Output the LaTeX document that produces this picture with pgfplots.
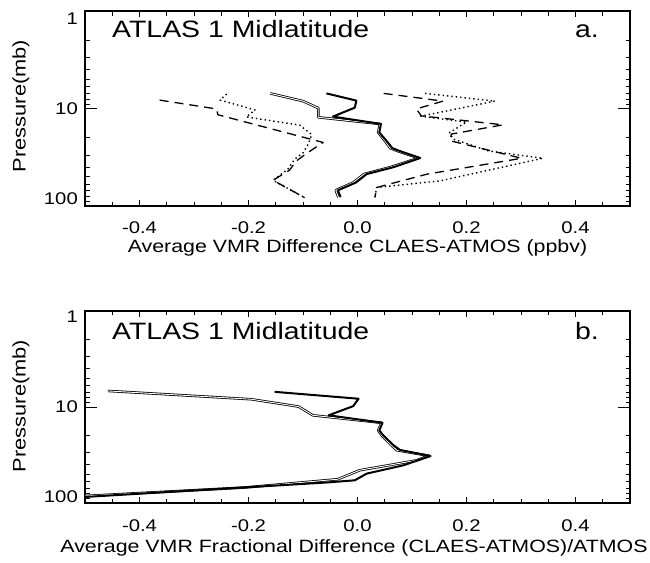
\documentclass[border=0pt]{standalone}
\usepackage{pgfplots}
\pgfplotsset{compat=1.18}
\usepackage{fontspec}
\setmainfont{Liberation Sans}[FakeStretch=1.2]
\pgfplotsset{
 dbl/.style={draw=black, double=white, double distance=0.9pt, line width=0.8pt, line join=round, mark=none},
 blk/.style={black, line width=2pt, line join=round, mark=none},
 dsh/.style={black, line width=1.3pt, dash pattern=on 9pt off 6pt, line join=round, mark=none},
 dtt/.style={black, line width=1.4pt, dash pattern=on 1.4pt off 3pt, line join=round, mark=none},
}
\begin{document}
\begin{tikzpicture}
% ---------------- panel a ----------------
\begin{axis}[scale only axis, width=545pt, height=195pt, at={(85pt,-206pt)}, anchor=south west,
  xmin=-0.5, xmax=0.5, ymode=log, ymin=1, ymax=100, y dir=reverse,
  xtick={-0.4,-0.2,0,0.2,0.4}, xticklabels={-0.4,-0.2,0.0,0.2,0.4},
  minor xtick={-0.45,-0.35,-0.3,-0.25,-0.15,-0.1,-0.05,0.05,0.1,0.15,0.25,0.3,0.35,0.45},
  ytick={1,100}, yticklabels={},
  extra y ticks={10}, extra y tick labels={}, extra y tick style={major tick length=12pt},
  minor ytick={2,3,4,5,6,7,8,9,20,30,40,50,60,70,80,90},
  tick align=inside, major tick length=6pt, minor tick length=4.5pt,
  axis line style={line width=1.6pt},
  every tick/.style={black, line width=1pt},
  xticklabel style={font=\fontsize{16.9}{20}\selectfont, anchor=base, yshift=-27pt, inner sep=0pt}]
\addplot[dsh] coordinates {(-0.363,8.2) (-0.259,10.1) (-0.256,11.6) (-0.063,22.3) (-0.094,29) (-0.112,34.5) (-0.125,43) (-0.155,54.5) (-0.097,82)};
\addplot[dtt] coordinates {(-0.240,7.1) (-0.252,8.2) (-0.188,10.35) (-0.204,12.2) (-0.106,14.8) (-0.084,18.5) (-0.090,23) (-0.100,28.5) (-0.115,33) (-0.128,42) (-0.155,54.5) (-0.097,82)};
\addplot[dsh] coordinates {(0.048,7.0) (0.157,8.4) (0.108,10.1) (0.117,11.9) (0.267,14.7) (0.172,18.3) (0.170,21.4) (0.301,32.4) (0.127,47.2) (0.035,64.6) (0.032,82)};
\addplot[dtt] coordinates {(0.124,7.0) (0.252,8.4) (0.116,12.0) (0.200,13.8) (0.169,17.6) (0.175,20.5) (0.240,27.2) (0.340,32.4) (0.151,55.3) (0.035,64.6) (0.032,82)};
\addplot[dbl] coordinates {(-0.160,7.0) (-0.100,8.4) (-0.088,9.0) (-0.072,9.9) (-0.072,12.3) (0.041,14.4) (0.038,17.6) (0.050,21.4) (0.060,25.5) (0.075,27.5) (0.112,32.2) (0.060,40) (0.012,47) (-0.008,57.5) (-0.040,69) (-0.035,81)};
\addplot[blk] coordinates {(-0.057,7.0) (-0.002,8.3) (-0.005,9.8) (-0.045,12.1) (0.043,14.4) (0.040,17.6) (0.053,21.4) (0.064,25.5) (0.079,27.5) (0.115,32.2) (0.066,40) (0.017,47) (-0.003,57.5) (-0.036,69) (-0.031,81)};
\end{axis}
% ---------------- panel b ----------------
\begin{axis}[scale only axis, width=545pt, height=192pt, at={(85pt,-503pt)}, anchor=south west,
  xmin=-0.5, xmax=0.5, ymode=log, ymin=1, ymax=100, y dir=reverse,
  xtick={-0.4,-0.2,0,0.2,0.4}, xticklabels={-0.4,-0.2,0.0,0.2,0.4},
  minor xtick={-0.45,-0.35,-0.3,-0.25,-0.15,-0.1,-0.05,0.05,0.1,0.15,0.25,0.3,0.35,0.45},
  ytick={1,100}, yticklabels={},
  extra y ticks={10}, extra y tick labels={}, extra y tick style={major tick length=12pt},
  minor ytick={2,3,4,5,6,7,8,9,20,30,40,50,60,70,80,90},
  tick align=inside, major tick length=6pt, minor tick length=4.5pt,
  axis line style={line width=1.6pt},
  every tick/.style={black, line width=1pt},
  xticklabel style={font=\fontsize{16.9}{20}\selectfont, anchor=base, yshift=-28.5pt, inner sep=0pt}]
\addplot[dbl] coordinates {(-0.458,6.8) (-0.195,8.3) (-0.108,9.9) (-0.082,12.2) (0.044,14.6) (0.038,17.5) (0.044,19.7) (0.062,25) (0.072,28.2) (0.131,32.2) (0.108,36) (0.004,45.6) (-0.036,56.5) (-0.207,69) (-0.5,84.5)};
\addplot[blk] coordinates {(-0.152,6.95) (0.002,8.2) (-0.008,9.8) (-0.053,12.2) (0.046,14.6) (0.040,17.5) (0.047,19.7) (0.066,25) (0.078,28) (0.134,32.4) (0.084,40.5) (0.017,49.4) (-0.005,58) (-0.054,61) (-0.5,86.5)};
\end{axis}
% ---------------- text ----------------
\tikzset{tl/.style={font=\fontsize{16.9}{20}\selectfont, anchor=east, inner sep=0pt}}
\node[tl] at (78pt,-18.3pt) {1};
\node[tl] at (78pt,-108.8pt) {10};
\node[tl] at (78pt,-198.8pt) {100};
\node[tl] at (78pt,-316.5pt) {1};
\node[tl] at (78pt,-407pt) {10};
\node[tl] at (78pt,-496.5pt) {100};
\tikzset{tt/.style={font=\fontsize{23.7}{28}\selectfont, inner sep=0pt}}
\node[tt, anchor=base west] at (112pt,-37.5pt) {ATLAS 1 Midlatitude};
\node[tt, anchor=base east] at (599pt,-37.5pt) {a.};
\node[tt, anchor=base west] at (112pt,-339.5pt) {ATLAS 1 Midlatitude};
\node[tt, anchor=base east] at (599pt,-339.5pt) {b.};
\tikzset{al/.style={font=\fontsize{17.8}{21}\selectfont, inner sep=0pt}}
\node[al, anchor=base] at (357.5pt,-252.3pt) {Average VMR Difference CLAES-ATMOS (ppbv)};
\node[al, anchor=base] at (354pt,-552pt) {Average VMR Fractional Difference (CLAES-ATMOS)/ATMOS};
\node[al, font=\fontsize{18.2}{21}\selectfont, rotate=90, anchor=base] at (25.5pt,-106pt) {Pressure(mb)};
\node[al, font=\fontsize{18.2}{21}\selectfont, rotate=90, anchor=base] at (25.5pt,-406pt) {Pressure(mb)};
\pgfresetboundingbox
\path[use as bounding box] (0pt,0pt) rectangle (650pt,-562pt);
\end{tikzpicture}
\end{document}
